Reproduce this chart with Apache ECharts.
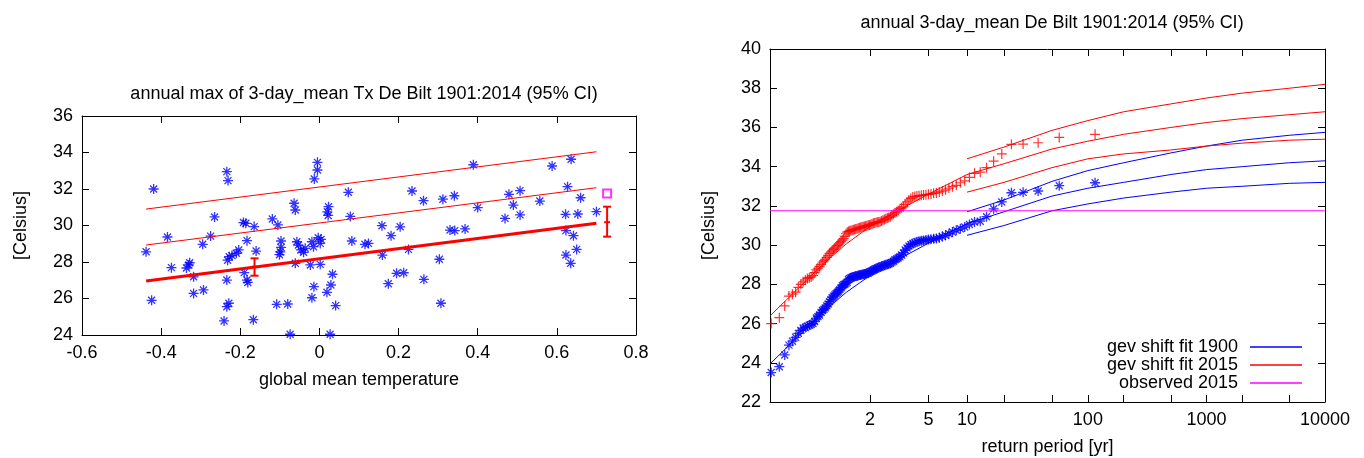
<!DOCTYPE html>
<html>
<head>
<meta charset="utf-8">
<script src="https://cdn.jsdelivr.net/npm/echarts@6/dist/echarts.min.js"></script>
<style>
  html, body { margin: 0; padding: 0; background: #fff; }
  #chart { width: 1364px; height: 458px; }
</style>
</head>
<body>
<div id="chart"></div>
<script>
// ---- left panel: annual max vs global mean temperature ----
const scatterPoints = [
  [-0.419, 32.0], [-0.438, 28.56], [-0.424, 25.9], [-0.384, 29.37], [-0.374, 27.69],
  [-0.328, 27.96], [-0.330, 27.84], [-0.336, 27.67], [-0.318, 27.19], [-0.318, 26.28],
  [-0.293, 26.47], [-0.295, 28.97], [-0.275, 29.42], [-0.265, 30.47], [-0.234, 32.95],
  [-0.231, 32.46], [-0.234, 27.01], [-0.229, 25.74], [-0.234, 25.55], [-0.241, 24.77],
  [-0.228, 28.29], [-0.221, 28.35], [-0.210, 28.48], [-0.204, 28.66], [-0.232, 28.10],
  [-0.192, 30.16], [-0.186, 30.12], [-0.183, 29.17], [-0.165, 29.94], [-0.160, 28.60],
  [-0.190, 27.42], [-0.183, 27.01], [-0.181, 26.88], [-0.167, 24.84], [-0.119, 30.36],
  [-0.105, 30.03], [-0.097, 29.15], [-0.097, 28.80], [-0.099, 28.55], [-0.101, 28.40],
  [-0.108, 25.68], [-0.080, 25.70], [-0.074, 24.04], [-0.064, 31.22], [-0.061, 30.85],
  [-0.061, 27.93], [-0.057, 29.11], [-0.053, 28.93], [-0.047, 28.66], [-0.040, 28.53],
  [-0.036, 28.75], [-0.005, 33.46], [-0.005, 33.04], [-0.013, 32.55], [0.023, 31.03],
  [0.020, 30.75], [0.022, 30.55], [0.073, 31.82], [0.078, 30.50], [-0.019, 29.11],
  [-0.015, 28.84], [-0.003, 29.33], [0.002, 29.02], [0.004, 29.24], [-0.023, 27.84],
  [0.002, 27.87], [0.033, 27.33], [-0.014, 26.65], [-0.019, 26.04], [0.029, 26.74],
  [0.019, 26.34], [0.041, 25.61], [0.027, 24.04], [0.082, 29.15], [0.115, 28.97],
  [0.124, 29.02], [0.158, 29.99], [0.181, 29.44], [0.204, 29.93], [0.159, 28.38],
  [0.225, 28.69], [0.234, 31.89], [0.263, 31.36], [0.195, 27.38], [0.213, 27.41],
  [0.174, 26.81], [0.264, 27.05], [0.303, 28.15], [0.307, 25.74], [0.312, 31.44],
  [0.341, 31.63], [0.330, 29.75], [0.342, 29.72], [0.368, 29.81], [0.389, 33.33],
  [0.400, 30.98], [0.479, 31.71], [0.507, 31.91], [0.490, 31.12], [0.469, 30.39],
  [0.507, 30.58], [0.557, 31.34], [0.588, 33.26], [0.636, 33.63], [0.627, 32.13],
  [0.660, 31.52], [0.622, 30.61], [0.653, 30.63], [0.700, 30.76], [0.623, 29.72],
  [0.642, 29.44], [0.623, 28.38], [0.650, 28.69], [0.635, 27.93]
];
const trendLine = [[-0.438, 26.96], [0.70, 30.12]];
const middleLine = [[-0.438, 28.93], [0.70, 32.07]];
const upperLine = [[-0.438, 30.9], [0.70, 34.04]];
// x, low, central, high
const ciBars = [[-0.164, 27.25, 27.74, 28.2], [0.727, 29.39, 30.18, 31.03]];
const obs2015Point = [[0.727, 31.75]];

// ---- right panel: return levels ----
const tickPeriods = [2, 5, 10, 20, 50, 100, 200, 500, 1000, 2000, 5000, 10000];
const labelPeriods = [2, 5, 10, 100, 1000, 10000];
const ranked1900 = [
  23.5, 23.8, 24.4, 24.9, 25.1, 25.3, 25.5, 25.65, 25.77, 25.8,
  25.87, 25.92, 25.96, 26.0, 26.1, 26.28, 26.36, 26.44, 26.57, 26.67,
  26.73, 26.8, 26.9, 27.0, 27.12, 27.22, 27.32, 27.4, 27.46, 27.53,
  27.6, 27.66, 27.73, 27.83, 27.93, 27.98, 28.0, 28.05, 28.1, 28.25,
  28.3, 28.33, 28.36, 28.38, 28.4, 28.42, 28.43, 28.45, 28.47, 28.48,
  28.5, 28.51, 28.53, 28.54, 28.56, 28.58, 28.62, 28.66, 28.7, 28.73,
  28.76, 28.8, 28.83, 28.86, 28.89, 28.92, 28.94, 28.97, 29.0, 29.02,
  29.04, 29.07, 29.12, 29.18, 29.25, 29.3, 29.35, 29.4, 29.5, 29.6,
  29.75, 29.85, 29.95, 30.02, 30.08, 30.12, 30.17, 30.2, 30.22, 30.24,
  30.26, 30.28, 30.3, 30.32, 30.34, 30.38, 30.44, 30.5, 30.58, 30.67,
  30.76, 30.83, 30.92, 31.05, 31.18, 31.22, 31.45, 31.85, 32.2, 32.67,
  32.69, 32.76, 33.03, 33.18
];
const ranked2015 = [
  26.0, 26.3, 26.9, 27.4, 27.5, 27.6, 27.85, 28.0, 28.13, 28.22,
  28.3, 28.34, 28.38, 28.45, 28.6, 28.74, 28.82, 28.9, 29.02, 29.14,
  29.2, 29.28, 29.37, 29.48, 29.58, 29.65, 29.71, 29.78, 29.84, 29.91,
  29.98, 30.05, 30.12, 30.18, 30.25, 30.33, 30.45, 30.58, 30.66, 30.7,
  30.72, 30.74, 30.76, 30.78, 30.8, 30.82, 30.84, 30.86, 30.88, 30.9,
  30.92, 30.93, 30.95, 30.97, 30.99, 31.01, 31.03, 31.05, 31.08, 31.11,
  31.13, 31.15, 31.17, 31.18, 31.19, 31.23, 31.27, 31.3, 31.34, 31.38,
  31.41, 31.45, 31.52, 31.58, 31.65, 31.7, 31.77, 31.85, 31.9, 31.95,
  32.08, 32.2, 32.3, 32.38, 32.45, 32.48, 32.5, 32.52, 32.54, 32.55,
  32.57, 32.59, 32.61, 32.64, 32.66, 32.71, 32.76, 32.82, 32.9, 32.98,
  33.05, 33.18, 33.28, 33.45, 33.66, 33.72, 33.95, 34.28, 34.65, 35.14,
  35.15, 35.22, 35.49, 35.65
];
const fitPeriods = [1.008, 1.03, 1.1, 1.25, 1.5, 2, 3, 5, 10, 20, 50, 100, 200, 500, 1000, 2000, 5000, 10000];
const fit1900 = [23.95, 24.75, 25.75, 26.75, 27.6, 28.45, 29.25, 30.1, 31.1, 31.7, 32.5, 32.9, 33.2, 33.6, 33.85, 34.0, 34.2, 34.3];
const fit2015 = [26.4, 27.2, 28.2, 29.2, 30.07, 30.95, 31.75, 32.6, 33.6, 34.15, 34.9, 35.3, 35.65, 36.0, 36.25, 36.45, 36.65, 36.8];
const ciPeriods = [10, 20, 50, 100, 200, 500, 1000, 2000, 5000, 10000];
const fit1900Lo = [30.5, 31.0, 31.75, 32.1, 32.4, 32.7, 32.9, 33.0, 33.15, 33.2];
const fit1900Hi = [31.7, 32.3, 33.25, 33.8, 34.2, 34.7, 35.05, 35.35, 35.6, 35.75];
const fit2015Lo = [32.7, 33.2, 33.95, 34.4, 34.65, 34.85, 35.05, 35.2, 35.35, 35.4];
const fit2015Hi = [34.4, 35.0, 35.85, 36.35, 36.8, 37.2, 37.5, 37.75, 38.0, 38.2];
const observed2015 = 31.75;

// gumbel reduced variate for the return period axis
function gumbel(T) { return -Math.log(-Math.log(1 - 1 / T)); }
function periodOf(g) { return 1 / (1 - Math.exp(-Math.exp(-g))); }

const xMinG = -1.58;
const xMaxG = gumbel(10000);
const nYears = ranked1900.length;
const rankedPoints = arr => arr.map((v, i) => [gumbel((nYears + 1) / (nYears - i)), v]);
const curve = (periods, vals) => periods.map((T, i) => [gumbel(T), vals[i]]);

const FONT = "'Liberation Sans', Arial, sans-serif";
const txt = { color: '#000', fontSize: 18, fontFamily: FONT };
const STAR = 'path://M0,5L10,5M5,0L5,10M1.5,1.5L8.5,8.5M8.5,1.5L1.5,8.5';
const CROSS = 'path://M0,5L10,5M5,0L5,10';

function frameAxis(extra) {
  return Object.assign({
    axisLine: { show: true, onZero: false, lineStyle: { color: '#000', width: 1 } },
    axisTick: { show: true, inside: true, length: 7, lineStyle: { color: '#000' } },
    axisLabel: Object.assign({ margin: 9 }, txt),
    splitLine: { show: false }
  }, extra);
}
function mirror(extra) {
  const a = frameAxis(extra);
  a.axisLabel = { show: false };
  return a;
}

const chart = echarts.init(document.getElementById('chart'));
const option = {
  animation: false,
  backgroundColor: '#fff',
  textStyle: { fontFamily: FONT },
  title: [
    { text: 'annual max of 3-day_mean Tx De Bilt 1901:2014 (95% CI)', left: 359, top: 80, textAlign: 'center',
      textStyle: Object.assign({ fontWeight: 'normal' }, txt) },
    { text: 'annual 3-day_mean De Bilt 1901:2014 (95% CI)', left: 1047, top: 9, textAlign: 'center',
      textStyle: Object.assign({ fontWeight: 'normal' }, txt) }
  ],
  legend: {
    data: ['gev shift fit 1900', 'gev shift fit 2015', 'observed 2015'],
    orient: 'vertical', right: 62, bottom: 66, padding: 0,
    align: 'right', icon: 'rect', itemWidth: 52, itemHeight: 1.5, itemGap: 0,
    selectedMode: false,
    textStyle: Object.assign({ padding: [0, 7, 0, 0] }, txt)
  },
  grid: [
    { left: 82, top: 116, width: 554, height: 219, outerBoundsMode: 'none' },
    { left: 770, top: 49, width: 555, height: 353, outerBoundsMode: 'none' }
  ],
  xAxis: [
    frameAxis({ type: 'value', gridIndex: 0, min: -0.6, max: 0.8, interval: 0.2,
      name: 'global mean temperature', nameLocation: 'middle', nameGap: 36, nameTextStyle: txt }),
    mirror({ type: 'value', gridIndex: 0, position: 'top', min: -0.6, max: 0.8, interval: 0.2 }),
    frameAxis({ type: 'value', gridIndex: 1, min: xMinG, max: xMaxG,
      name: 'return period [yr]', nameLocation: 'middle', nameGap: 36, nameTextStyle: txt,
      axisTick: { show: true, inside: true, length: 7, lineStyle: { color: '#000' },
        customValues: tickPeriods.map(gumbel) },
      axisLabel: Object.assign({ margin: 9, customValues: labelPeriods.map(gumbel),
        formatter: v => String(Math.round(periodOf(v))) }, txt) }),
    mirror({ type: 'value', gridIndex: 1, position: 'top', min: xMinG, max: xMaxG,
      axisTick: { show: true, inside: true, length: 7, lineStyle: { color: '#000' },
        customValues: tickPeriods.map(gumbel) } })
  ],
  yAxis: [
    frameAxis({ type: 'value', gridIndex: 0, min: 24, max: 36, interval: 2,
      name: '[Celsius]', nameLocation: 'middle', nameGap: 52, nameTextStyle: txt }),
    mirror({ type: 'value', gridIndex: 0, position: 'right', min: 24, max: 36, interval: 2 }),
    frameAxis({ type: 'value', gridIndex: 1, min: 22, max: 40, interval: 2,
      name: '[Celsius]', nameLocation: 'middle', nameGap: 52, nameTextStyle: txt }),
    mirror({ type: 'value', gridIndex: 1, position: 'right', min: 22, max: 40, interval: 2 })
  ],
  series: [
    // left panel
    { type: 'scatter', name: 'annual max', xAxisIndex: 0, yAxisIndex: 0, data: scatterPoints,
      symbol: STAR, symbolSize: 10,
      itemStyle: { color: '#0000ff', borderColor: '#0000ff', borderWidth: 1.3 } },
    { type: 'line', name: 'trend', xAxisIndex: 0, yAxisIndex: 0, data: trendLine, showSymbol: false,
      lineStyle: { color: '#ff0000', width: 3 } },
    { type: 'line', name: 'trend mid', xAxisIndex: 0, yAxisIndex: 0, data: middleLine, showSymbol: false,
      lineStyle: { color: '#ff0000', width: 1 } },
    { type: 'line', name: 'trend up', xAxisIndex: 0, yAxisIndex: 0, data: upperLine, showSymbol: false,
      lineStyle: { color: '#ff0000', width: 1 } },
    { type: 'custom', name: 'ci', xAxisIndex: 0, yAxisIndex: 0, data: ciBars,
      encode: { x: 0, y: [1, 2, 3] },
      renderItem: function (params, api) {
        const x = api.value(0);
        const lo = api.coord([x, api.value(1)]);
        const mid = api.coord([x, api.value(2)]);
        const hi = api.coord([x, api.value(3)]);
        const st = { stroke: '#ff0000', lineWidth: 2 };
        const seg = (x1, y1, x2, y2) => ({ type: 'line', shape: { x1, y1, x2, y2 }, style: st });
        return { type: 'group', children: [
          seg(lo[0], lo[1], hi[0], hi[1]),
          seg(lo[0] - 4, lo[1], lo[0] + 4, lo[1]),
          seg(hi[0] - 4, hi[1], hi[0] + 4, hi[1]),
          seg(mid[0] - 3, mid[1], mid[0] + 3, mid[1])
        ] };
      } },
    { type: 'scatter', name: 'obs 2015', xAxisIndex: 0, yAxisIndex: 0, data: obs2015Point,
      symbol: 'emptyRect', symbolSize: 8, itemStyle: { color: '#ff00ff', borderWidth: 1 } },

    // right panel
    { type: 'scatter', name: 'points 1900', xAxisIndex: 2, yAxisIndex: 2, data: rankedPoints(ranked1900),
      symbol: STAR, symbolSize: 10,
      itemStyle: { color: '#0000ff', borderColor: '#0000ff', borderWidth: 1.3 } },
    { type: 'scatter', name: 'points 2015', xAxisIndex: 2, yAxisIndex: 2, data: rankedPoints(ranked2015),
      symbol: CROSS, symbolSize: 10,
      itemStyle: { color: '#ff0000', borderColor: '#ff0000', borderWidth: 1.2 } },
    { type: 'line', name: 'gev shift fit 1900', xAxisIndex: 2, yAxisIndex: 2, data: curve(fitPeriods, fit1900),
      showSymbol: false, color: '#0000ff', lineStyle: { color: '#0000ff', width: 1 } },
    { type: 'line', name: 'gev shift fit 1900', xAxisIndex: 2, yAxisIndex: 2, data: curve(ciPeriods, fit1900Lo),
      showSymbol: false, color: '#0000ff', lineStyle: { color: '#0000ff', width: 1 } },
    { type: 'line', name: 'gev shift fit 1900', xAxisIndex: 2, yAxisIndex: 2, data: curve(ciPeriods, fit1900Hi),
      showSymbol: false, color: '#0000ff', lineStyle: { color: '#0000ff', width: 1 } },
    { type: 'line', name: 'gev shift fit 2015', xAxisIndex: 2, yAxisIndex: 2, data: curve(fitPeriods, fit2015),
      showSymbol: false, color: '#ff0000', lineStyle: { color: '#ff0000', width: 1 } },
    { type: 'line', name: 'gev shift fit 2015', xAxisIndex: 2, yAxisIndex: 2, data: curve(ciPeriods, fit2015Lo),
      showSymbol: false, color: '#ff0000', lineStyle: { color: '#ff0000', width: 1 } },
    { type: 'line', name: 'gev shift fit 2015', xAxisIndex: 2, yAxisIndex: 2, data: curve(ciPeriods, fit2015Hi),
      showSymbol: false, color: '#ff0000', lineStyle: { color: '#ff0000', width: 1 } },
    { type: 'line', name: 'observed 2015', xAxisIndex: 2, yAxisIndex: 2,
      data: [[xMinG, observed2015], [xMaxG, observed2015]],
      showSymbol: false, color: '#ff00ff', lineStyle: { color: '#ff00ff', width: 1 } }
  ]
};
chart.setOption(option);
</script>
</body>
</html>
